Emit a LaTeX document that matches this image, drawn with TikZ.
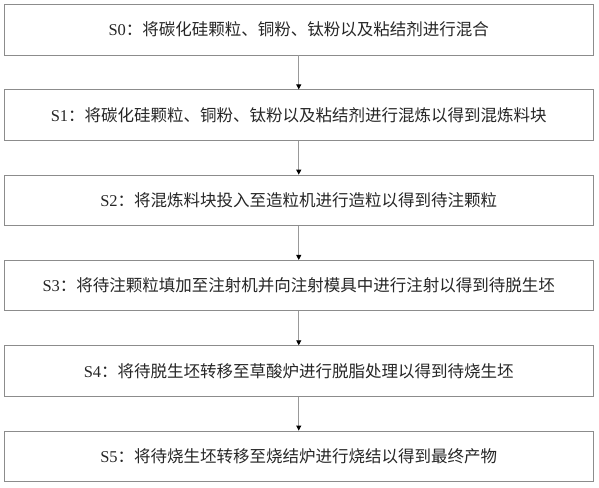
\documentclass[tikz,border=0pt]{standalone}
\usepackage{fontspec}
\newfontfamily\cjk{Noto Sans CJK SC}
\newfontfamily\latn{Liberation Serif}
\usetikzlibrary{arrows.meta}
\newcommand{\stp}[1]{{\latn S#1}：}
\begin{document}
\begin{tikzpicture}[x=1pt,y=-1pt,
  stepbox/.style={draw=black!45, line width=0.9pt, minimum width=588.5pt, minimum height=50.5pt, inner sep=0pt, font=\cjk\fontsize{16.5}{19}\selectfont, text=black!85},
  flow/.style={draw=black!40, line width=0.9pt, -{Triangle[length=5pt,width=5pt,black]}}]
\useasboundingbox (0,0) rectangle (599,487);
\node[stepbox] (s0) at (298.75, 29.75) {\stp{0}将碳化硅颗粒、铜粉、钛粉以及粘结剂进行混合};
\node[stepbox] (s1) at (298.75, 115.05) {\stp{1}将碳化硅颗粒、铜粉、钛粉以及粘结剂进行混炼以得到混炼料块};
\node[stepbox] (s2) at (298.75, 200.35) {\stp{2}将混炼料块投入至造粒机进行造粒以得到待注颗粒};
\node[stepbox] (s3) at (298.75, 285.65) {\stp{3}将待注颗粒填加至注射机并向注射模具中进行注射以得到待脱生坯};
\node[stepbox] (s4) at (298.75, 370.95) {\stp{4}将待脱生坯转移至草酸炉进行脱脂处理以得到待烧生坯};
\node[stepbox] (s5) at (298.75, 456.25) {\stp{5}将待烧生坯转移至烧结炉进行烧结以得到最终产物};
\foreach \a/\b in {s0/s1,s1/s2,s2/s3,s3/s4,s4/s5}
  \draw[flow] (\a.south) -- (\b.north);
\end{tikzpicture}
\end{document}
